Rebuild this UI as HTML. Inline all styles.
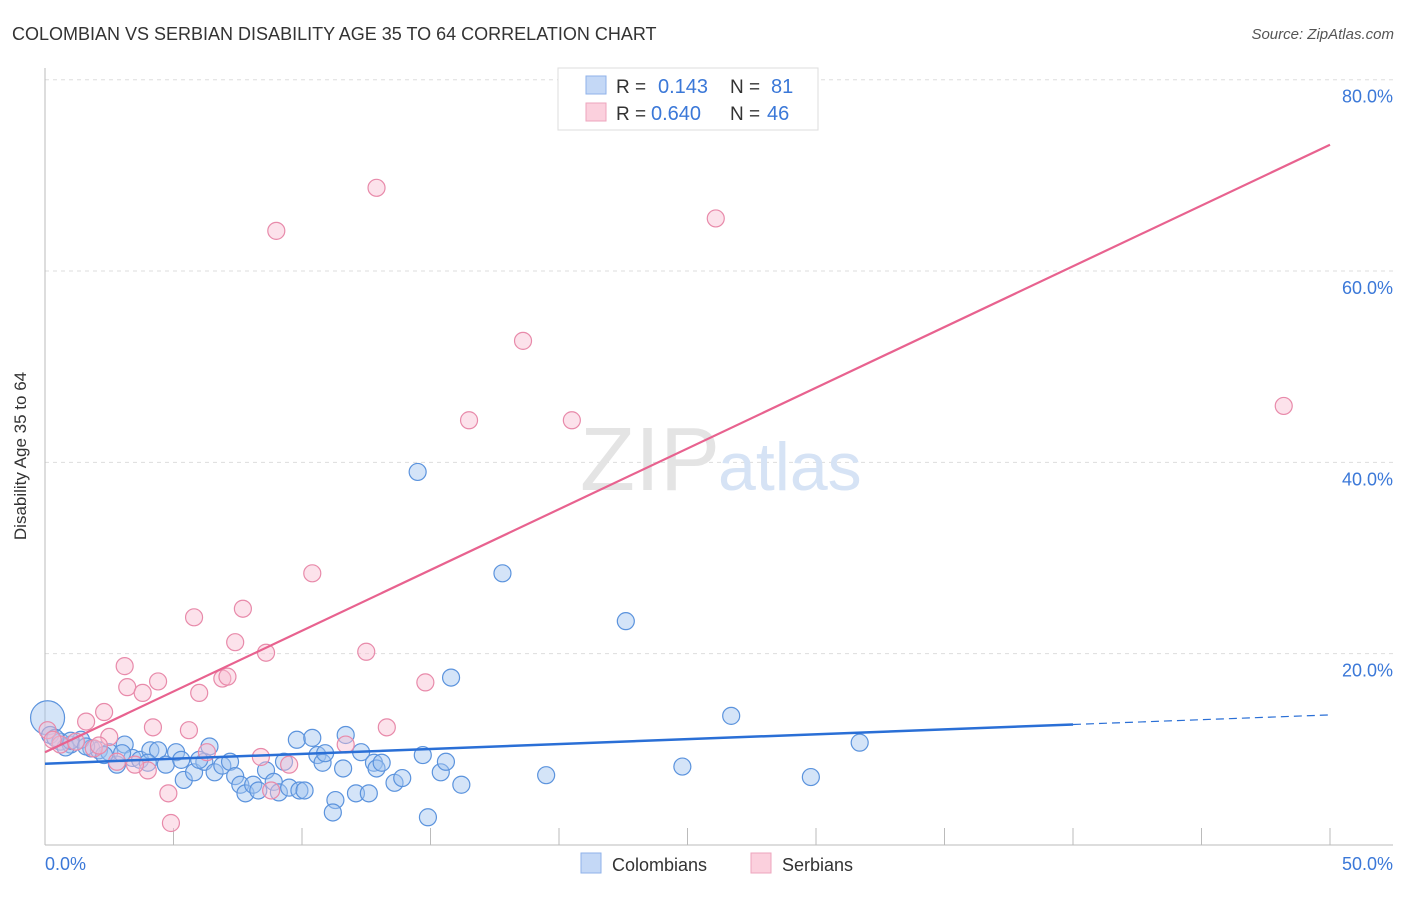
<!DOCTYPE html>
<html><head><meta charset="utf-8"><style>
body{margin:0;background:#fff;font-family:"Liberation Sans",sans-serif;}
svg text{font-family:"Liberation Sans",sans-serif;}
</style></head><body>
<svg id="chart" width="1406" height="892">
<text x="12" y="40" font-size="18" fill="#333">COLOMBIAN VS SERBIAN DISABILITY AGE 35 TO 64 CORRELATION CHART</text>
<text x="1394" y="39" font-size="15" fill="#555" font-style="italic" text-anchor="end">Source: ZipAtlas.com</text>
<g id="grid"></g>
<text x="720" y="490" font-size="90" fill="#e4e4e4" text-anchor="end" font-family="Liberation Serif">ZIP</text>
<text x="718" y="490" font-size="68" fill="#d6e3f5">atlas</text>
<g id="pts"></g>
<g id="lines"></g>
<text x="26" y="456" font-size="17" fill="#333" text-anchor="middle" transform="rotate(-90 26 456)">Disability Age 35 to 64</text>
<text x="45" y="870" font-size="18" fill="#3b78d8">0.0%</text>
<text x="1393" y="870" font-size="18" fill="#3b78d8" text-anchor="end">50.0%</text>
<g>
<rect x="558" y="68" width="260" height="62" fill="#fff" stroke="#ddd"/>
<rect x="586" y="76" width="20" height="18" fill="#c4d8f6" stroke="#8fb2ea"/>
<rect x="586" y="103" width="20" height="18" fill="#fbd0dd" stroke="#eea5bd"/>
<text x="616" y="93" font-size="19" fill="#333">R =</text><text x="658" y="93" font-size="20" fill="#3b78d8">0.143</text>
<text x="730" y="93" font-size="19" fill="#333">N =</text><text x="771" y="93" font-size="20" fill="#3b78d8">81</text>
<text x="616" y="120" font-size="19" fill="#333">R =</text><text x="651" y="120" font-size="20" fill="#3b78d8">0.640</text>
<text x="730" y="120" font-size="19" fill="#333">N =</text><text x="767" y="120" font-size="20" fill="#3b78d8">46</text>
</g>
<g>
<rect x="581" y="853" width="20" height="20" fill="#c4d8f6" stroke="#8fb2ea"/>
<text x="612" y="871" font-size="18" fill="#333">Colombians</text>
<rect x="751" y="853" width="20" height="20" fill="#fbd0dd" stroke="#eea5bd"/>
<text x="782" y="871" font-size="18" fill="#333">Serbians</text>
</g>
</svg>
<script>
const yTicks=[20,40,60,80];
const blueX=[0.1,0.2,0.6,1.0,1.4,0.8,1.8,2.1,2.5,2.8,3.1,3.4,3.7,4.1,4.4,4.7,5.1,5.3,5.4,5.8,6.2,6.4,6.6,6.9,7.2,7.4,7.6,7.8,8.1,8.3,8.6,8.9,9.1,9.3,9.5,9.9,10.1,9.8,10.4,10.6,10.8,10.9,11.3,11.2,11.6,11.7,12.1,12.3,12.6,12.8,12.9,13.1,13.6,13.9,14.5,14.7,14.9,15.4,15.6,15.8,16.2,17.8,19.5,22.6,24.8,26.7,29.8,31.7,1.0,1.6,3.0,0.4,2.3,4.0,6.0];
const blueY=[13.3,11.5,10.8,10.5,11.0,10.2,10.1,9.9,9.7,8.4,10.5,9.1,8.9,9.9,9.9,8.4,9.7,8.9,6.8,7.6,8.7,10.3,7.6,8.3,8.7,7.2,6.3,5.4,6.3,5.7,7.8,6.6,5.5,8.7,6.0,5.7,5.7,11.0,11.2,9.4,8.6,9.6,4.7,3.4,8.0,11.5,5.4,9.7,5.4,8.6,8.0,8.6,6.5,7.0,39.0,9.4,2.9,7.6,8.7,17.5,6.3,28.4,7.3,23.4,8.2,13.5,7.1,10.7,10.9,10.3,9.6,11.2,9.4,8.6,8.9];
const pinkX=[12.9,9.0,26.1,18.6,16.5,20.5,48.2,10.4,5.8,7.7,7.4,8.6,12.5,3.1,4.4,3.2,3.8,6.0,6.9,7.1,14.8,2.3,1.6,4.2,5.6,13.3,2.5,0.1,0.6,1.2,1.9,2.1,6.3,8.4,9.5,4.0,3.5,4.8,4.9,11.7,8.8,2.8,0.3];
const pinkY=[68.7,64.2,65.5,52.7,44.4,44.4,45.9,28.4,23.8,24.7,21.2,20.1,20.2,18.7,17.1,16.5,15.9,15.9,17.4,17.6,17.0,13.9,12.9,12.3,12.0,12.3,11.3,12.0,10.5,10.8,10.1,10.4,9.7,9.2,8.4,7.8,8.4,5.4,2.3,10.5,5.7,8.7,11.0];
const blueTrend=[8.5,12.6,13.6]; // at x=0, 40, 50
const pinkTrend=[9.7,73.2]; // at x=0, 50
const NS="http://www.w3.org/2000/svg";
const sx=v=>45+v/50*1285, sy=v=>845-v*9.566;
function mk(tag,attrs,parent){const e=document.createElementNS(NS,tag);for(const k in attrs)e.setAttribute(k,attrs[k]);parent.appendChild(e);return e;}
const grid=document.getElementById('grid');
yTicks.forEach(t=>{
  const l=mk('line',{x1:45,x2:1393,y1:sy(t),y2:sy(t),stroke:'#ddd','stroke-dasharray':'4,4'},grid);
  
  
  const tx=mk('text',{x:1393,y:sy(t)+23,'font-size':18,fill:'#3b78d8','text-anchor':'end'},grid);
  tx.textContent=t.toFixed(1)+'%';
  
  
});
const ax=mk('line',{x1:45,x2:45,y1:68,y2:845,stroke:'#bbb'},grid);


const bx=mk('line',{x1:45,x2:1393,y1:845,y2:845,stroke:'#bbb'},grid);


for(let i=1;i<=10;i++){const t=mk('line',{x1:sx(i*5),x2:sx(i*5),y1:828,y2:845,stroke:'#bbb'},grid);

}
const pts=document.getElementById('pts');
blueX.forEach((x,i)=>{const c=mk('circle',{cx:sx(x),cy:sy(blueY[i]),r:i==0?17:8.5,fill:'rgba(160,195,240,0.45)',stroke:'#5b93dd','stroke-width':1.2},pts);

});
pinkX.forEach((x,i)=>{const c=mk('circle',{cx:sx(x),cy:sy(pinkY[i]),r:8.5,fill:'rgba(248,190,210,0.45)',stroke:'#e88aaa','stroke-width':1.2},pts);

});
const lines=document.getElementById('lines');
const b1=mk('line',{x1:sx(0),y1:sy(blueTrend[0]),x2:sx(40),y2:sy(blueTrend[1]),stroke:'#2a6fd6','stroke-width':2.5},lines);


const b2=mk('line',{x1:sx(40),y1:sy(blueTrend[1]),x2:sx(50),y2:sy(blueTrend[2]),stroke:'#2a6fd6','stroke-width':1.2,'stroke-dasharray':'8,5'},lines);


const p1=mk('line',{x1:sx(0),y1:sy(pinkTrend[0]),x2:sx(50),y2:sy(pinkTrend[1]),stroke:'#e8628f','stroke-width':2.2},lines);


</script>
</body></html>
